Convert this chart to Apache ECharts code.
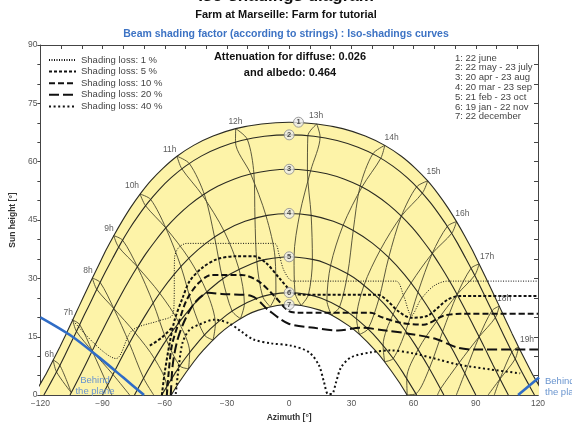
<!DOCTYPE html>
<html>
<head>
<meta charset="utf-8">
<script src="https://cdn.jsdelivr.net/npm/echarts@6/dist/echarts.min.js"></script>
<style>
html, body { margin: 0; padding: 0; background: #fff; }
#chart { width: 572px; height: 427px; }
</style>
</head>
<body>
<div id="chart"></div>
<script>
// sun paths, [azimuth, sun height] in degrees
const path1 = [[-123.1,0],[-120.4,2.54],[-117.0,5.7],[-113.8,9.03],[-110.6,12.39],[-107.5,15.8],[-104.4,19.33],[-101.3,22.87],[-98.1,26.5],[-94.9,30.08],[-91.6,33.7],[-88.2,37.4],[-84.6,40.98],[-80.7,44.6],[-76.5,48.2],[-71.9,51.67],[-66.8,55.06],[-60.9,58.3],[-54.1,61.4],[-46.1,64.2],[-36.7,66.6],[-25.8,68.5],[-13.3,69.7],[0,70.15],
  [13.3,69.7],[25.8,68.5],[36.7,66.6],[46.1,64.2],[54.1,61.4],[60.9,58.3],[66.8,55.06],[71.9,51.67],[76.5,48.2],[80.7,44.6],[84.6,40.98],[88.2,37.4],[91.6,33.7],[94.9,30.08],[98.1,26.5],[101.3,22.87],[104.4,19.33],[107.5,15.8],[110.6,12.39],[113.8,9.03],[117.0,5.7],[120.4,2.54],[123.1,0]]
const path2 = [[-118.3,0],[-114.8,3.4],[-111.4,6.79],[-108.2,10.21],[-105.0,13.7],[-101.8,17.24],[-98.6,20.82],[-95.3,24.4],[-92.0,28.06],[-88.6,31.7],[-85.0,35.3],[-81.3,38.94],[-77.3,42.52],[-72.9,46.0],[-68.1,49.47],[-62.8,52.78],[-56.9,55.9],[-50.0,58.86],[-42.2,61.5],[-33.2,63.7],[-23.1,65.43],[-11.9,66.54],[0,66.9],
  [11.9,66.54],[23.1,65.43],[33.2,63.7],[42.2,61.5],[50.0,58.86],[56.9,55.9],[62.8,52.78],[68.1,49.47],[72.9,46.0],[77.3,42.52],[81.3,38.94],[85.0,35.3],[88.6,31.7],[92.0,28.06],[95.3,24.4],[98.6,20.82],[101.8,17.24],[105.0,13.7],[108.2,10.21],[111.4,6.79],[114.8,3.4],[118.3,0]]
const path3 = [[-105.7,0],[-101.7,4.17],[-98.3,7.76],[-95.0,11.37],[-91.6,15.0],[-88.1,18.65],[-84.6,22.27],[-81.0,25.88],[-77.2,29.46],[-73.2,32.98],[-69.0,36.42],[-64.4,39.75],[-59.5,42.97],[-54.1,46.01],[-48.2,48.85],[-41.6,51.42],[-34.5,53.66],[-26.7,55.5],[-18.2,56.9],[-9.2,57.75],[0,58.05],
  [9.2,57.75],[18.2,56.9],[26.7,55.5],[34.5,53.66],[41.6,51.42],[48.2,48.85],[54.1,46.01],[59.5,42.97],[64.4,39.75],[69.0,36.42],[73.2,32.98],[77.2,29.46],[81.0,25.88],[84.6,22.27],[88.1,18.65],[91.6,15.0],[95.0,11.37],[98.3,7.76],[101.7,4.17],[105.7,0]]
const path4 = [[-90,0],[-84.7,5.6],[-79.6,10.86],[-74.0,16.31],[-68.4,21.34],[-62.1,26.43],[-55.6,30.97],[-48.0,35.38],[-40.1,39.07],[-30.9,42.33],[-21.3,44.67],[-10.6,46.21],[0,46.7],
  [10.6,46.21],[21.3,44.67],[30.9,42.33],[40.1,39.07],[48.0,35.38],[55.6,30.97],[62.1,26.43],[68.4,21.34],[74.0,16.31],[79.6,10.86],[84.7,5.6],[90,0]]
const path5 = [[-74.6,0],[-71.6,3.0],[-67.6,6.85],[-60.7,12.97],[-56.2,16.48],[-48.4,21.86],[-43.3,24.8],[-34.1,29.07],[-28.2,31.2],[-17.8,33.86],[-11.2,34.89],[0,35.55],
  [11.2,34.89],[17.8,33.86],[28.2,31.2],[34.1,29.07],[43.3,24.8],[48.4,21.86],[56.2,16.48],[60.7,12.97],[67.6,6.85],[71.6,3.0],[74.6,0]]
const path6 = [[-61.5,0],[-54.7,5.9],[-50.2,9.42],[-43.1,14.12],[-38.0,17.01],[-30.1,20.64],[-24.3,22.67],[-15.5,24.87],[-9.3,25.83],[0,26.35],
  [9.3,25.83],[15.5,24.87],[24.3,22.67],[30.1,20.64],[38.0,17.01],[43.1,14.12],[50.2,9.42],[54.7,5.9],[61.5,0]]
const path7 = [[-56.9,0],[-52.8,3.5],[-46.0,8.58],[-41.5,11.5],[-33.9,15.59],[-28.8,17.8],[-20.4,20.58],[-14.8,21.85],[-5.8,23.05],[0,23.27],
  [5.8,23.05],[14.8,21.85],[20.4,20.58],[28.8,17.8],[33.9,15.59],[41.5,11.5],[46.0,8.58],[52.8,3.5],[56.9,0]]

// path number markers
const pathMarks = [[4.5,70.15,'1'],[0,66.9,'2'],[0,58.05,'3'],[0,46.7,'4'],[0,35.55,'5'],[0,26.35,'6'],[0,23.27,'7']]

// hour lines, two branches each (june -> december by first and second half of year)
const h06 = [[[-113.8,9.03],[-110.6,7.67],[-105.1,0.64]], [[-113.8,9.03],[-112.2,5.95],[-105.1,0.64]]]
const h07 = [[[-104.4,19.33],[-101.0,18.1],[-95.0,11.37],[-87.6,2.55],[-85.5,0]], [[-104.4,19.33],[-102.6,16.4],[-95.0,11.37],[-85.0,5.31],[-76.9,0]]]
const h08 = [[[-94.9,30.08],[-91.15,28.96],[-84.6,22.27],[-77.1,13.35],[-70.2,4.34],[-65.3,0]], [[-94.9,30.08],[-92.8,27.2],[-84.6,22.27],[-74.3,16.03],[-64.9,9.32],[-59.1,2.17],[-59.1,0]]]
const h09 = [[[-84.6,40.98],[-80.3,39.8],[-73.2,32.98],[-65.6,23.69],[-59.2,14.2],[-52.7,7.48],[-48.5,6.77]], [[-84.6,40.98],[-82.3,38.1],[-73.2,32.98],[-62.4,26.17],[-53.2,18.69],[-48.0,10.95],[-48.5,6.77]]]
const h10 = [[[-71.9,51.67],[-66.8,50.3],[-59.5,42.97],[-52.2,33.03],[-46.6,22.9],[-40.9,15.44],[-36.7,14.16]], [[-71.9,51.67],[-69.3,48.7],[-59.5,42.97],[-48.4,35.16],[-39.8,26.6],[-35.6,18.23],[-36.7,14.16]]]
const h11 = [[[-54.1,61.4],[-48.1,59.5],[-40.8,51.42],[-36.0,40.64],[-32.1,29.84],[-27.5,21.59],[-23.5,19.65]], [[-54.1,61.4],[-51.8,58.2],[-41.9,51.42],[-31.4,42.17],[-24.2,32.38],[-21.6,23.47],[-23.5,19.65]]]
const h12 = [[[-25.8,68.5],[-20.2,65.75],[-17.0,56.9],[-16.5,45.5],[-15.6,34.27],[-12.8,25.36],[-9.15,22.73]], [[-25.8,68.5],[-25.9,65.1],[-18.6,56.9],[-11.2,46.15],[-6.8,35.31],[-6.4,26.1],[-9.15,22.73]]]
const h13 = [[[13.3,69.7],[14.9,66.4],[10.4,57.75],[5.1,46.59],[2.35,35.53],[2.8,26.31],[5.8,23.05]], [[13.3,69.7],[9.0,66.66],[8.8,57.75],[10.6,46.21],[11.2,34.89],[9.3,25.83],[5.8,23.05]]]
const h14 = [[[46.1,64.2],[44.2,60.9],[35.3,53.66],[26.0,43.64],[20.0,33.4],[18.2,24.3],[20.4,20.58]], [[46.1,64.2],[40.3,62.0],[34.2,53.66],[30.9,42.33],[28.2,31.2],[24.3,22.67],[20.4,20.58]]]
const h15 = [[[66.8,55.06],[64.3,52.0],[54.1,46.01],[44.0,37.37],[36.1,28.25],[32.5,19.62],[33.9,15.59]], [[66.8,55.06],[61.4,53.5],[54.1,46.01],[48.0,35.38],[43.3,24.8],[38.0,17.01],[33.9,15.59]]]
const h16 = [[[80.7,44.6],[78.4,41.6],[69.0,36.42],[58.8,28.83],[50.1,20.79],[45.3,12.76],[46.0,8.58]], [[80.7,44.6],[76.3,43.4],[69.0,36.42],[62.1,26.43],[56.2,16.48],[50.2,9.42],[46.0,8.58]]]
const h17 = [[[91.6,33.7],[89.5,30.8],[81.0,25.88],[71.1,18.95],[62.2,11.72],[56.7,4.27],[56.9,0.06]], [[91.6,33.7],[87.7,32.6],[81.0,25.88],[74.0,16.31],[67.6,6.85],[61.3,0.41],[56.9,0.06]]]
const h18 = [[[101.3,22.87],[99.4,19.9],[91.6,15.0],[82.0,8.34],[73.0,1.64],[71.5,0]], [[101.3,22.87],[97.8,21.7],[91.6,15.0],[84.7,5.6],[80.6,0]]]
const h19 = [[[110.6,12.39],[109.0,9.3],[101.7,4.17],[95.9,0]], [[110.6,12.39],[107.4,11.1],[101.7,4.17],[98.9,0]]]

// hour labels
const hourLabels = [[-115.7,10.5,'6h'],[-106.6,21.2,'7h'],[-97.0,31.9,'8h'],[-86.9,42.8,'9h'],[-75.8,53.8,'10h'],[-57.6,63.2,'11h'],[-25.9,70.4,'12h'],
  [13.0,71.9,'13h'],[49.4,66.3,'14h'],[69.6,57.4,'15h'],[83.5,46.7,'16h'],[95.5,35.7,'17h'],[103.7,24.7,'18h'],[114.7,14.3,'19h']]

// iso-shading curves
const iso1 = [[-104.6,19.4],[-83.5,9.4],[-75.8,16.6],[-62.9,19.1],[-56.5,20.4],[-55.5,24],[-55.3,35.2],[-53.5,37.8],[-49.4,39.0],[-7.2,39.0],[-4.8,36.0],[-2.4,31.9],[1.9,29.3],[51.4,29.3],[55.2,25.5],[59.0,20.4],[63.4,24.5],[69.6,28.0],[76.3,29.3],[120,29.3]]
const iso5 = [[-61.4,0],[-60.0,5.9],[-57.6,13.5],[-55.2,19.4],[-51.4,25.0],[-48.0,29.3],[-42.2,32.6],[-35.0,34.9],[-25.4,35.7],[-16.8,35.7],[-11.0,33.9],[-4.8,30.1],[1.9,26.3],[6.7,25.8],[42.7,25.8],[47.5,24.2],[52.3,21.7],[58.6,19.9],[66.7,20.4],[76.3,24.5],[82.6,25.5],[120,25.5]]
const iso5b = [[-67.2,12.7],[-61.4,14.8],[-56.6,17.3]]
const iso10 = [[-59.0,0],[-58.1,5.9],[-56.6,12.7],[-53.3,18.6],[-49.4,24.5],[-43.7,28.8],[-37.4,30.9],[-23.0,30.9],[-14.9,29.3],[-7.2,25.5],[-0.5,21.7],[4.3,21.2],[39.4,21.2],[44.2,20.1],[53.8,18.6],[64.8,18.1],[74.4,20.4],[82.6,20.9],[120,20.9]]
const iso20 = [[-57.1,0],[-56.2,7.6],[-54.2,13.5],[-50.9,18.6],[-45.6,23.7],[-38.9,26.3],[-32.6,26.0],[-18.2,25.5],[-10.1,21.9],[-0.5,18.4],[12.0,17.3],[23.5,16.6],[34.6,17.3],[46.6,16.6],[60.0,15.6],[71.5,14.3],[81.1,12.2],[89.8,11.7],[120,11.7]]
const iso40 = [[-54.7,0.3],[-53.3,7.1],[-51.4,13.5],[-48.0,16.8],[-42.2,18.4],[-36.0,19.4],[-28.8,18.4],[-23.0,16.3],[-17.3,14.3],[-8.6,13.3],[1.0,12.7],[9.6,11.0],[14.4,7.6],[16.8,3.3],[18.7,0.3],[20.6,0.3],[22.6,3.3],[25.0,7.1],[29.8,9.7],[39.4,11.0],[49.0,11.5],[60.0,10.7],[71.5,9.2],[81.1,7.9],[97.0,6.6],[111.4,5.6]]

// plane horizon ("behind the plane")
const behindLeft = [[-120,20],[-105,15.2],[-91.7,9.7],[-80,4.5],[-70,0]]
const behindRight = [[110.4,0],[120.5,4.5]]

const dateNames = ['1: 22 june', '2: 22 may - 23 july', '3: 20 apr - 23 aug', '4: 20 mar - 23 sep', '5: 21 feb - 23 oct', '6: 19 jan - 22 nov', '7: 22 december']

const FONT = 'Liberation Sans'
const chart = echarts.init(document.getElementById('chart'))

const lineBase = { type: 'line', symbol: 'none', silent: true, animation: false }
let series = []

// yellow sky area between june and december paths
series.push(Object.assign({}, lineBase, {
  data: path1, clip: false, smooth: 0.2, z: 1,
  lineStyle: { width: 0 }, areaStyle: { color: '#fdf3a8', opacity: 1 }
}))
series.push(Object.assign({}, lineBase, {
  data: path7, clip: false, smooth: 0.2, z: 1,
  lineStyle: { width: 0 }, areaStyle: { color: '#ffffff', opacity: 1 }
}))

// hour lines
;[h06, h07, h08, h09, h10, h11, h12, h13, h14, h15, h16, h17, h18, h19].forEach((h) => {
  h.forEach((branch) => {
    series.push(Object.assign({}, lineBase, {
      data: branch, smooth: 0.3, z: 2, clip: false,
      lineStyle: { color: '#4a4730', width: 0.9 }
    }))
  })
})

// date paths
;[path1, path2, path3, path4, path5, path6, path7].forEach((p) => {
  series.push(Object.assign({}, lineBase, {
    data: p, smooth: 0.2, z: 3, clip: false,
    lineStyle: { color: '#2a2a22', width: 1.1 }
  }))
})

// iso-shading curves
const isoStyles = [
  { name: 'Shading loss: 1 %', data: iso1, ls: { width: 1, type: [1, 1.5] } },
  { name: 'Shading loss: 5 %', data: iso5, ls: { width: 2, type: [3, 2] } },
  { name: 'Shading loss: 10 %', data: iso10, ls: { width: 2, type: [6, 3] } },
  { name: 'Shading loss: 20 %', data: iso20, ls: { width: 2, type: [10, 4] } },
  { name: 'Shading loss: 40 %', data: iso40, ls: { width: 2, type: [2, 2.6] } }
]
isoStyles.forEach((s) => {
  series.push(Object.assign({}, lineBase, {
    name: s.name, data: s.data, smooth: 0.3, z: 4, color: '#111',
    lineStyle: Object.assign({ color: '#111' }, s.ls)
  }))
})
series.push(Object.assign({}, lineBase, {
  data: iso5b, smooth: 0.3, z: 4,
  lineStyle: { color: '#111', width: 2, type: [3, 2] }
}))

// behind the plane
;[behindLeft, behindRight].forEach((b) => {
  series.push(Object.assign({}, lineBase, {
    data: b, smooth: 0.3, z: 5, clip: false,
    lineStyle: { color: '#2f6cc6', width: 2.6 }
  }))
})

// markers and hour labels
series.push({
  type: 'scatter', data: pathMarks, symbol: 'circle', symbolSize: 10, z: 6, silent: true, animation: false,
  itemStyle: { color: '#ececec', borderColor: '#8a8a8a', borderWidth: 1 },
  label: { show: true, position: 'inside', formatter: (p) => p.data[2], fontSize: 7.5, fontWeight: 'bold', color: '#222', fontFamily: FONT }
})
series.push({
  type: 'scatter', data: hourLabels, symbolSize: 0, z: 6, silent: true, animation: false,
  label: { show: true, position: 'inside', formatter: (p) => p.data[2], fontSize: 8.5, color: '#333', fontFamily: FONT }
})

const minus = (v) => (v < 0 ? '\u2212' + (-v) : '' + v)

const option = {
  backgroundColor: '#fff',
  animation: false,
  grid: { left: 38, right: 34, top: 45, bottom: 29 },
  legend: {
    data: isoStyles.map((s) => s.name),
    orient: 'vertical', left: 43, top: 50,
    itemWidth: 27, itemHeight: 8, itemGap: 1.6,
    itemStyle: { opacity: 0 },
    textStyle: { fontSize: 9.5, color: '#444', fontFamily: FONT },
    selectedMode: false
  },
  xAxis: [
    {
      type: 'value', min: -120, max: 120, interval: 10,
      name: 'Azimuth [°]', nameLocation: 'middle', nameGap: 17,
      nameTextStyle: { fontSize: 8.5, fontWeight: 'bold', color: '#333', fontFamily: FONT },
      axisLine: { show: true, onZero: false, lineStyle: { color: '#444' } },
      axisTick: { show: true, inside: true, length: 3, lineStyle: { color: '#444' } },
      axisLabel: { fontSize: 8.5, color: '#555', margin: 4, fontFamily: FONT, formatter: (v) => (v % 30 === 0 ? minus(v) : '') },
      splitLine: { show: false }
    },
    {
      type: 'value', min: -120, max: 120, interval: 10, position: 'top',
      axisLine: { show: true, onZero: false, lineStyle: { color: '#444' } },
      axisTick: { show: true, inside: true, length: 4, lineStyle: { color: '#444' } },
      axisLabel: { show: false }, splitLine: { show: false }
    }
  ],
  yAxis: [
    {
      type: 'value', min: 0, max: 90, interval: 5,
      name: 'Sun height [°]', nameLocation: 'middle', nameGap: 20, nameRotate: 90,
      nameTextStyle: { fontSize: 8.5, fontWeight: 'bold', color: '#333', fontFamily: FONT },
      axisLine: { show: true, onZero: false, lineStyle: { color: '#444' } },
      axisTick: { show: true, inside: false, length: 3, lineStyle: { color: '#444' } },
      axisLabel: { fontSize: 8.5, color: '#555', margin: 3, fontFamily: FONT, formatter: (v) => (v % 15 === 0 ? v : '') },
      splitLine: { show: false }
    },
    {
      type: 'value', min: 0, max: 90, interval: 5, position: 'right',
      axisLine: { show: true, onZero: false, lineStyle: { color: '#444' } },
      axisTick: { show: true, inside: true, length: 4, lineStyle: { color: '#444' } },
      axisLabel: { show: false }, splitLine: { show: false }
    }
  ],
  graphic: [
    { type: 'text', z: 100, left: 'center', top: -12, style: { text: 'Iso-shadings diagram', font: 'bold 17px ' + FONT, fill: '#111' } },
    { type: 'text', z: 100, left: 'center', top: 9, style: { text: 'Farm at Marseille: Farm for tutorial', font: 'bold 11px ' + FONT, fill: '#111' } },
    { type: 'text', z: 100, left: 'center', top: 29, style: { text: 'Beam shading factor (according to strings) : Iso-shadings curves', font: 'bold 10.5px ' + FONT, fill: '#3d73c4' } },
    { type: 'text', z: 100, x: 290, y: 51, style: { text: 'Attenuation for diffuse: 0.026', font: 'bold 11px ' + FONT, fill: '#111', textAlign: 'center' } },
    { type: 'text', z: 100, x: 290, y: 67, style: { text: 'and albedo: 0.464', font: 'bold 11px ' + FONT, fill: '#111', textAlign: 'center' } },
    { type: 'text', z: 100, x: 455, y: 53, style: { text: dateNames.join('\n'), font: '9.5px ' + FONT, fill: '#444', lineHeight: 9.8 } },
    { type: 'text', z: 100, x: 95, y: 375, style: { text: 'Behind\nthe plane', font: '9.5px ' + FONT, fill: '#6a95cf', textAlign: 'center', lineHeight: 11 } },
    { type: 'text', z: 100, x: 545, y: 376, style: { text: 'Behind\nthe plane', font: '9.5px ' + FONT, fill: '#6a95cf', lineHeight: 11 } }
  ],
  series: series
}
chart.setOption(option)
</script>
</body>
</html>
